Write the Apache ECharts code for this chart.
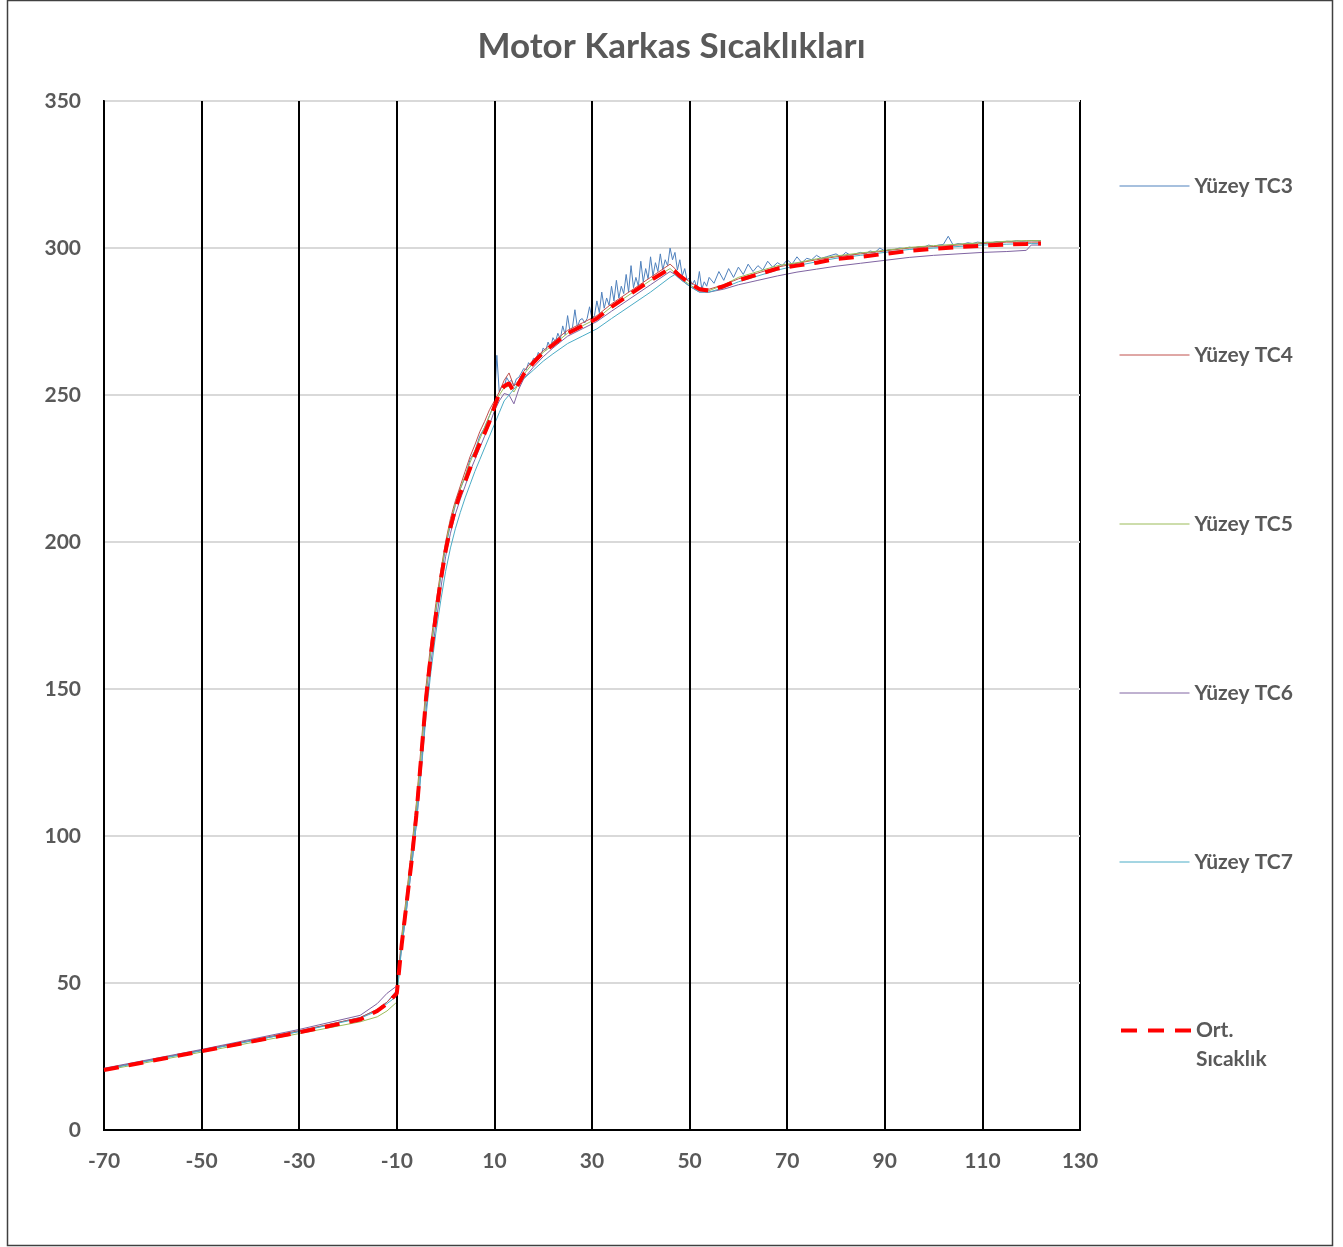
<!DOCTYPE html>
<html>
<head>
<meta charset="utf-8">
<script src="https://cdn.jsdelivr.net/npm/echarts@6/dist/echarts.min.js"></script>
<style>html,body{margin:0;padding:0;background:#fff}#c{width:1343px;height:1247px}</style>
</head>
<body>
<div id="c"></div>
<script>
// ---- data ----
var titleText = 'Motor Karkas Sıcaklıkları';
var seriesNames = ['Yüzey TC3', 'Yüzey TC4', 'Yüzey TC5', 'Yüzey TC6', 'Yüzey TC7', 'Ort.\nSıcaklık'];
var xTickLabels = [-70, -50, -30, -10, 10, 30, 50, 70, 90, 110, 130];
var yTickLabels = [0, 50, 100, 150, 200, 250, 300, 350];

// common time grid for smooth series
var xGrid = [-70, -50, -30, -17.5, -14, -12, -10, -9, -8, -7, -6, -5, -4, -3, -2, -1, 0, 1, 2, 3, 4, 5, 6, 7, 8, 9, 10, 11, 12, 13, 14, 15, 16, 18, 20, 22, 25, 28, 31, 34, 38, 42, 46, 47, 48, 50, 52, 54, 57, 60, 64, 68, 72, 76, 80, 85, 90, 95, 100, 105, 110, 115, 119, 120, 122];

var tc4 = [20.8, 27.2, 33.8, 38.2, 41, 43.5, 47, 66, 80, 95, 111, 131, 151, 166, 179, 190, 200, 208, 214, 219, 224, 229, 233, 237.5, 241, 245, 248, 251, 255, 257.5, 253, 255, 258, 262, 265, 268, 272, 274.5, 277, 281, 285.5, 290, 294.5, 293, 291, 288.5, 286.5, 286, 287.5, 289.5, 291.5, 293.5, 294.8, 296, 297, 298, 299, 300, 300.5, 301, 301.5, 302, 302, 302, 302];
var tc5 = [20.2, 26.5, 32.8, 36.8, 38.5, 40.5, 43.5, 65, 79, 94, 110, 129, 149, 164, 177, 189, 199, 207, 213, 218, 222.5, 227, 231, 235, 239, 243, 247, 250, 252.5, 253, 251, 254, 257, 261, 264.5, 267, 271, 273.5, 276, 280, 284.5, 289, 293, 291.5, 290, 287.5, 285.5, 285.5, 287.5, 290, 292, 294, 295, 296.3, 297.3, 298.3, 299.2, 300.2, 300.8, 301.3, 301.8, 302.3, 302.5, 302.5, 302.5];
var tc6 = [21, 27.4, 34.2, 39, 43, 46.5, 49, 62, 75, 89, 104, 123, 143, 159, 172, 184, 195, 203, 209.5, 214.5, 219, 224, 228, 232, 236, 240, 244.5, 248, 250.5, 250, 247, 252, 255.5, 259.5, 263, 266, 270, 272.5, 275, 278.5, 283, 287.5, 292, 291, 289.5, 287, 285, 285, 286, 287.5, 289, 290.5, 291.8, 292.8, 293.8, 294.8, 295.8, 296.8, 297.5, 298, 298.5, 298.8, 299.2, 301, 301];
var tc7 = [20.6, 27, 33.5, 38, 40.5, 43, 45.5, 62, 75, 89, 104, 122, 141, 156, 169, 180, 190, 198, 204.5, 210, 215, 219.5, 224, 228, 232, 236, 240, 244, 248, 250, 252, 254, 255.5, 258.5, 261.5, 264, 267.5, 270, 272.5, 276, 280.5, 285, 290, 291, 289.5, 287, 285, 285, 286.5, 288.5, 290.5, 292.5, 294, 295.3, 296.5, 297.5, 298.5, 299.5, 300, 300.5, 301, 301.3, 301.5, 301.5, 301.5];
var avg = [20.4, 26.8, 33.2, 37.6, 40.5, 43, 46.5, 63, 77, 91, 107, 127, 147, 162, 175, 187, 197, 205, 211.5, 216.5, 220.5, 225, 229.5, 233.5, 237, 241, 246, 250.5, 253, 254, 251, 254, 257, 261, 264.5, 267, 271, 273.5, 276, 280, 284.5, 289, 293, 292, 290.5, 288, 286, 285.5, 287, 289, 291, 293, 294, 295, 296.3, 297, 298, 299, 299.7, 300.3, 300.8, 301.2, 301.4, 301.5, 301.5];

// TC3 (noisy sensor) has its own dense time base
var tc3X = [-70, -50, -30, -17.5, -14, -12, -10, -9, -8, -7, -6, -5, -4, -3, -2, -1, 0, 1, 2, 3, 4, 5, 6, 7, 8, 9,
  10, 10.5, 11, 11.5, 12, 12.5, 13, 13.5, 14, 14.5, 15, 15.5, 16, 16.5, 17, 17.5, 18, 18.5, 19, 19.5, 20, 20.5, 21, 21.5, 22, 22.5, 23, 23.5, 24, 24.5, 25, 25.5, 26, 26.5, 27, 27.5, 28, 28.5, 29, 29.5, 30, 30.5, 31, 31.5, 32, 32.5, 33, 33.5, 34, 34.5, 35, 35.5, 36, 36.5, 37, 37.5, 38, 38.5, 39, 39.5, 40, 40.5, 41, 41.5, 42, 42.5, 43, 43.5, 44, 44.5, 45, 45.5, 46, 46.5, 47, 47.5, 48, 48.5, 49, 49.5, 50, 50.5, 51, 51.5, 52, 52.5, 53, 53.5, 54,
  55, 56, 57, 58, 59, 60, 61, 62, 63, 64, 65, 66, 67, 68, 69, 70, 71, 72, 73, 74, 75, 76, 77, 78, 79, 80, 81, 82, 83, 84, 85, 86, 87, 88, 89, 90, 91, 92, 93, 94, 95, 96, 97, 98, 99, 100, 101, 102, 103, 104, 105, 106, 107, 108, 109, 110, 111, 112, 113, 114, 115, 116, 117, 118, 119, 120, 121, 122];
var tc3Y = [20.6, 27, 33.5, 38.3, 41, 43.5, 47.5, 64, 78, 92, 108, 128, 148, 163, 176, 188, 198, 206, 212.5, 218, 222, 228, 231, 236, 239, 243,
  247, 263.5, 251, 253, 252.5, 256, 254.5, 255, 253, 255.5, 256, 257.5, 259, 258.5, 261, 260, 262.5, 262, 264.5, 263, 266, 265, 268, 266, 269.5, 268, 271, 269, 273.5, 270.5, 277, 271.5, 273, 279, 273, 275.5, 276, 274.5, 276, 280, 276, 277, 282, 278, 285, 279.5, 283, 280.5, 287, 282, 289, 283, 287, 284.5, 291, 285, 294, 286.5, 290, 287, 295.5, 288.5, 293, 289.5, 297, 290.5, 295, 292, 298, 292.5, 296, 294, 300, 296, 298.5, 292.5, 296, 290.5, 293, 289, 290, 287.5, 289, 286.5, 292, 286, 288.5, 287, 290,
  288, 292, 289, 293, 290, 293.5, 291, 294.5, 292, 294, 292.5, 295.5, 293.5, 295, 294, 296, 294.5, 297, 295, 296.5, 296, 297.5, 296.5, 297, 297.5, 298, 297, 298.5, 297.5, 298, 298.5, 298, 299, 298.5, 300, 299, 299.5, 299.5, 300, 299.8, 300.3, 300, 300.5, 300.3, 301, 300.5, 301, 301.2, 304, 301, 301.5, 301.3, 301.8, 301.5, 302, 301.8, 302, 301.8, 302.2, 302, 302.3, 302.2, 302.5, 302.3, 302.4, 302.5, 302.4, 302.5];

function pairs(xs, ys) { var out = []; for (var i = 0; i < xs.length; i++) out.push([xs[i], ys[i]]); return out; }

var colors = ['#4F81BD', '#C0504D', '#9BBB59', '#8064A2', '#4BACC6', '#FF0000'];
var seriesData = [pairs(tc3X, tc3Y), pairs(xGrid, tc4), pairs(xGrid, tc5), pairs(xGrid, tc6), pairs(xGrid, tc7), pairs(xGrid, avg)];

var FONT = 'Lato';
var TXT = '#595959';

var series = seriesData.map(function (d, i) {
  var isAvg = i === 5;
  var s = {
    name: seriesNames[i],
    type: 'line',
    data: d,
    symbol: 'none',
    smooth: false,
    z: isAvg ? 10 : 3 + i * 0.1,
    lineStyle: isAvg ? { color: colors[i], width: 4, type: [15, 10], cap: 'butt' } : { color: colors[i], width: 1 },
    itemStyle: { color: colors[i] },
    animation: false
  };
  if (i === 0) {
    s.markLine = {
      silent: true,
      symbol: 'none',
      label: { show: false },
      animation: false,
      lineStyle: { color: '#000', width: 2, type: 'solid' },
      data: xTickLabels.slice(1, xTickLabels.length - 1).map(function (v) { return { xAxis: v }; })
    };
  }
  return s;
});

var legendTops = [173, 342, 511, 680, 849];
var legends = legendTops.map(function (t, i) {
  return {
    data: [seriesNames[i]], left: 1119, top: t, orient: 'vertical', padding: 0,
    itemWidth: 70, itemHeight: 14, selectedMode: false,
    itemStyle: { opacity: 0 },
    lineStyle: { width: 1 },
    textStyle: { color: TXT, fontFamily: FONT, fontWeight: 'bold', fontSize: 21, lineHeight: 26 }
  };
});
legends.push({
  data: [seriesNames[5]], left: 1119, top: 987, orient: 'vertical', padding: 0,
  itemWidth: 70, itemHeight: 14, selectedMode: false,
  itemStyle: { opacity: 0 },
  lineStyle: { width: 4, type: [16, 11], cap: 'butt' },
  formatter: function (n) { return ' \n' + n; },
  textStyle: { color: TXT, fontFamily: FONT, fontWeight: 'bold', fontSize: 21, lineHeight: 29 }
});

var chart = echarts.init(document.getElementById('c'), null, { renderer: 'canvas' });
chart.setOption({
  animation: false,
  backgroundColor: '#fff',
  title: {
    text: titleText, left: 'center', top: 24,
    textStyle: { color: TXT, fontFamily: FONT, fontWeight: 'bold', fontSize: 35 }
  },
  legend: legends,
  grid: { left: 104, right: 263, top: 101, bottom: 117, show: true, borderColor: '#000', borderWidth: 2, backgroundColor: 'transparent' },
  xAxis: {
    type: 'value', min: -70, max: 130, interval: 10,
    axisLine: { show: true, onZero: false, lineStyle: { color: '#000', width: 2 } },
    axisTick: { show: false },
    splitLine: { show: false },
    axisLabel: {
      margin: 21, color: TXT, fontFamily: FONT, fontWeight: 'bold', fontSize: 21,
      formatter: function (v) { return xTickLabels.indexOf(v) >= 0 ? String(v) : ''; }
    }
  },
  yAxis: {
    type: 'value', min: 0, max: 350, interval: 50,
    axisLine: { show: true, onZero: false, lineStyle: { color: '#000', width: 2 } },
    axisTick: { show: false },
    splitLine: { show: true, lineStyle: { color: '#D9D9D9', width: 2 } },
    axisLabel: {
      margin: 23, color: TXT, fontFamily: FONT, fontWeight: 'bold', fontSize: 21,
      formatter: function (v) { return yTickLabels.indexOf(v) >= 0 ? String(v) : ''; }
    }
  },
  graphic: [{
    type: 'rect', silent: true, z: -1,
    shape: { x: 7.5, y: 0.5, width: 1325, height: 1245 },
    style: { fill: 'none', stroke: '#404040', lineWidth: 1.5 }
  }],
  series: series
});
</script>
</body>
</html>
